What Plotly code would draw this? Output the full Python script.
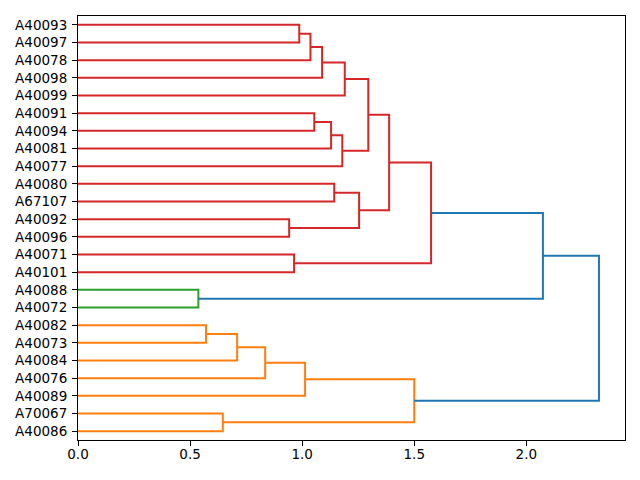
import plotly.graph_objects as go

# Leaf labels, top to bottom
leaf_labels = ["A40093", "A40097", "A40078", "A40098", "A40099", "A40091", "A40094",
               "A40081", "A40077", "A40080", "A67107", "A40092", "A40096", "A40071",
               "A40101", "A40088", "A40072", "A40082", "A40073", "A40084", "A40076",
               "A40089", "A70067", "A40086"]

# Merges: children are leaf labels or "#k" (k-th merge), with merge distance
merge_left = ["A40088", "A40082", "A70067", "#1", "#3", "A40092", "A40071", "A40093",
              "#4", "#7", "A40091", "#9", "#10", "A40080", "#12", "#11", "#13", "#15",
              "#17", "#8", "#18", "#20", "#21"]
merge_right = ["A40072", "A40073", "A40086", "A40084", "A40076", "A40096", "A40101", "A40097",
               "A40089", "A40078", "A40094", "A40098", "A40081", "A67107", "A40077", "A40099",
               "#5", "#14", "#16", "#2", "#6", "#0", "#19"]
merge_height = [0.537, 0.571, 0.646, 0.710, 0.835, 0.942, 0.964, 0.987, 1.013, 1.037,
                1.054, 1.089, 1.129, 1.143, 1.179, 1.190, 1.254, 1.295, 1.388, 1.500,
                1.575, 2.074, 2.324]

above_color = "#1f77b4"
cluster_colors = ["#ff7f0e", "#2ca02c", "#d62728", "#9467bd", "#8c564b"]

n = len(leaf_labels)
leaf_y = {lab: 10 * (n - 1 - i) + 5 for i, lab in enumerate(leaf_labels)}
threshold = 0.7 * max(merge_height)

node_y, node_h = {}, {}
for lab in leaf_labels:
    node_y[lab] = leaf_y[lab]
    node_h[lab] = 0.0
for k, (a, b, h) in enumerate(zip(merge_left, merge_right, merge_height)):
    key = "#%d" % k
    node_y[key] = (node_y[a] + node_y[b]) / 2
    node_h[key] = h

def children(key):
    if key.startswith("#"):
        k = int(key[1:])
        return [merge_left[k], merge_right[k]]
    return []

def min_leaf_y(key):
    if not key.startswith("#"):
        return node_y[key]
    return min(min_leaf_y(c) for c in children(key))

merge_color = {}
roots = []
for k, h in enumerate(merge_height):
    key = "#%d" % k
    if h < threshold:
        parent = None
        for j in range(len(merge_height)):
            if key in (merge_left[j], merge_right[j]):
                parent = j
        if parent is None or merge_height[parent] >= threshold:
            roots.append(key)
roots.sort(key=min_leaf_y)

def paint(key, col):
    if key.startswith("#"):
        merge_color[key] = col
        for c in children(key):
            paint(c, col)

for i, r in enumerate(roots):
    paint(r, cluster_colors[i % len(cluster_colors)])

fig = go.Figure()
for k, (a, b, h) in enumerate(zip(merge_left, merge_right, merge_height)):
    key = "#%d" % k
    col = merge_color.get(key, above_color)
    fig.add_trace(go.Scatter(
        x=[node_h[a], h, h, node_h[b]],
        y=[node_y[a], node_y[a], node_y[b], node_y[b]],
        mode="lines", line=dict(color=col, width=2),
        hoverinfo="skip", showlegend=False))

font = dict(family="DejaVu Sans", size=13.5, color="black")
fig.update_layout(
    width=640, height=480,
    margin=dict(l=78, r=15, t=16, b=40),
    plot_bgcolor="white", paper_bgcolor="white",
    font=font, showlegend=False,
    xaxis=dict(range=[0, max(merge_height) * 1.05], dtick=0.5, tick0=0, tickformat=".1f",
               showgrid=False, zeroline=False, showline=True, linecolor="black", linewidth=1,
               mirror=True, ticks="outside", ticklen=5, tickcolor="black", tickwidth=1,
               ticklabelstandoff=-3),
    yaxis=dict(range=[0, 10 * n], tickmode="array",
               tickvals=[leaf_y[l] for l in leaf_labels], ticktext=leaf_labels,
               showgrid=False, zeroline=False, showline=True, linecolor="black", linewidth=1,
               mirror=True, ticks="outside", ticklen=5, tickcolor="black", tickwidth=1,
               ticklabelstandoff=2),
)
fig.write_html("out.html", config={"displayModeBar": False},
               post_script="document.body.style.margin='0';document.body.style.overflow='hidden';")
